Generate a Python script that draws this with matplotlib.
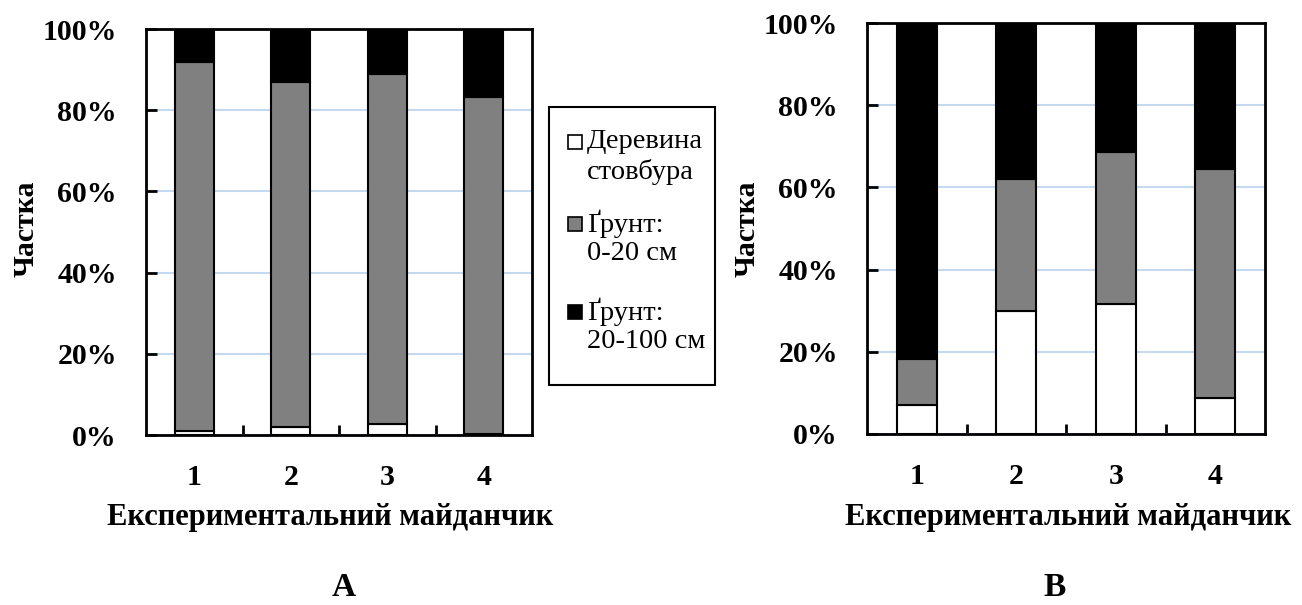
import numpy as np
import matplotlib.pyplot as plt
from matplotlib.patches import Rectangle

plt.rcParams['font.family'] = ['Liberation Serif', 'DejaVu Serif']

sites = ['1', '2', '3', '4']
series_names = ['Деревина\nстовбура', 'Ґрунт:\n0-20 см', 'Ґрунт:\n20-100 см']
colors = ['white', '#808080', 'black']

# shares (%) per site: trunk wood, soil 0-20 cm, soil 20-100 cm
wood_a = [1.0, 2.0, 2.6, 0.3]
soil20_a = [90.9, 85.0, 86.3, 83.0]
soil100_a = [8.1, 13.0, 11.1, 16.7]

wood_b = [7.1, 30.0, 31.6, 8.7]
soil20_b = [11.1, 32.0, 37.1, 55.8]
soil100_b = [81.8, 38.0, 31.3, 35.5]

W, H = 1302, 605
FS = 21.5
fig = plt.figure(figsize=(W / 100, H / 100), dpi=100)


def fx(px):
    return px / W


def fy(py):
    return 1 - py / H


def draw(ax, parts):
    x = np.arange(1, len(sites) + 1)
    bottom = np.zeros(len(sites))
    for vals, c in zip(parts, colors):
        ax.bar(x, vals, width=0.4, bottom=bottom, color=c,
               edgecolor='black', linewidth=1.5, zorder=3)
        bottom += np.array(vals)
    ax.set_xlim(0.5, 4.5)
    ax.set_ylim(0, 100)
    ax.set_yticks([0, 20, 40, 60, 80, 100])
    ax.set_yticklabels([f'{v}%' for v in range(0, 101, 20)],
                       fontsize=FS, fontweight='bold')
    ax.yaxis.grid(True, color='#c5d9f1', linewidth=1.5, zorder=0)
    ax.set_xticks(x)
    ax.set_xticklabels(sites, fontsize=FS, fontweight='bold')
    ax.set_xticks([1.5, 2.5, 3.5], minor=True)
    ax.tick_params(axis='x', which='major', length=0, pad=21)
    ax.tick_params(axis='x', which='minor', direction='in', length=7, width=2)
    ax.tick_params(axis='y', direction='in', length=8, width=2, pad=21)
    for s in ax.spines.values():
        s.set_linewidth(2)


ax1 = fig.add_axes([fx(146), fy(435), 386 / W, 406 / H])
draw(ax1, [wood_a, soil20_a, soil100_a])
ax2 = fig.add_axes([fx(867), fy(434), 398 / W, 411 / H])
draw(ax2, [wood_b, soil20_b, soil100_b])

# axis titles
for x0, y0 in [(26, 229), (747, 229)]:
    fig.text(fx(x0), fy(y0), 'Частка', rotation=90, fontsize=FS,
             fontweight='bold', ha='center', va='center')
for x0 in [330, 1068]:
    fig.text(fx(x0), fy(517), 'Експериментальний майданчик', fontsize=22,
             fontweight='bold', ha='center', va='center')

fig.text(fx(344), fy(588), 'A', fontsize=24, fontweight='bold',
         ha='center', va='center')
fig.text(fx(1055), fy(588), 'B', fontsize=24, fontweight='bold',
         ha='center', va='center')

# legend box drawn by hand: marker sits on the first line of each entry
fig.patches.append(Rectangle((fx(549), fy(385)), (715 - 549) / W,
                             (385 - 107) / H, transform=fig.transFigure,
                             facecolor='white', edgecolor='black',
                             linewidth=1.5))
entry_tops = [142, 224, 312]
for top, name, c in zip(entry_tops, series_names, colors):
    fig.patches.append(Rectangle((fx(568), fy(top + 7)), 14 / W, 14 / H,
                                 transform=fig.transFigure, facecolor=c,
                                 edgecolor='black', linewidth=1.2))
    first, second = name.split('\n')
    fig.text(fx(587), fy(top), first, fontsize=FS - 1, va='center')
    fig.text(fx(587), fy(top + 30), second, fontsize=FS - 1, va='center')

fig.savefig('out.png', dpi=100)
